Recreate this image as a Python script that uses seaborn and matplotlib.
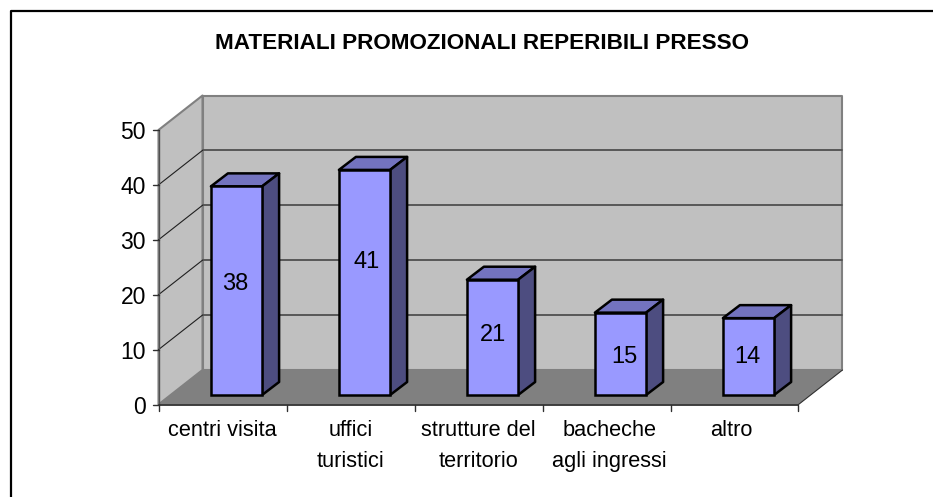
import matplotlib
matplotlib.use("Agg")
import matplotlib.pyplot as plt
from matplotlib.patches import Polygon
from matplotlib.lines import Line2D
from matplotlib.transforms import ScaledTranslation, IdentityTransform
import seaborn as sns
import pandas as pd

categories = ["centri visita", "uffici\nturistici", "strutture del\nterritorio",
              "bacheche\nagli ingressi", "altro"]
values = [38, 41, 21, 15, 14]
y_ticks = [0, 10, 20, 30, 40, 50]
title_text = "MATERIALI PROMOZIONALI REPERIBILI PRESSO"

W, H, DPI = 933, 497, 100
sns.set_theme(style="white")
plt.rcParams['font.family'] = ['Liberation Sans', 'DejaVu Sans']

fig = plt.figure(figsize=(W / DPI, H / DPI), dpi=DPI)
L, R, T, B = 158.5, 798.5, 130.0, 404.5
ax = fig.add_axes([L / W, 1 - B / H, (R - L) / W, (B - T) / H])
ax.patch.set_visible(False)

df = pd.DataFrame({"cat": categories, "val": values})
sns.barplot(data=df, x="cat", y="val", ax=ax, width=0.4, color="#9999FF",
            saturation=1, edgecolor="black", linewidth=1.8, zorder=5)
ax.set_xlim(-0.5, 4.5)
ax.set_ylim(0, 50)
ax.set_xlabel("")
ax.set_ylabel("")
for s in ax.spines.values():
    s.set_visible(False)


def off(dx, dy):
    """Data transform shifted by screen pixels (dy positive = up)."""
    return ax.transData + ScaledTranslation(dx / DPI, dy / DPI, fig.dpi_scale_trans)


WX, WY = 44, 34.5      # depth of the box
BX, BY = 14, 9.5       # shift of bars from front plane
DX, DY = 17, 13        # depth of bars
LABEL_NUDGE = [(0, -7), (3.5, -20), (1.5, -2), (4.5, 3), (-0.5, 0)]  # label placement, px
CAT_NUDGE = [0, 0, 0, 3, -3]                                        # label placement, px

base = off(0, 0)
wall = off(WX, WY)
x0, x1 = -0.5, 4.5
GREY = "#808080"

pts = lambda xy, tr: tr.transform(xy)
px = IdentityTransform()
p00, p10 = pts((x0, 0), base), pts((x1, 0), base)
p01, p11 = pts((x0, 50), base), pts((x1, 50), base)
q00, q10 = pts((x0, 0), wall), pts((x1, 0), wall)
q01, q11 = pts((x0, 50), wall), pts((x1, 50), wall)


def poly(points, fc, ec, lw, z):
    ax.add_patch(Polygon(points, closed=True, transform=px, fc=fc, ec=ec, lw=lw, zorder=z,
                         clip_on=False, joinstyle="round"))


def line(a, b, color, lw, z=1):
    ax.add_line(Line2D([a[0], b[0]], [a[1], b[1]], transform=px, color=color, lw=lw, zorder=z,
                       clip_on=False))


# back wall, side wall, floor
poly([q00, q10, q11, q01], "#C0C0C0", GREY, 1.5, 0.6)
poly([p00, q00, q01, p01], "#C0C0C0", GREY, 1.5, 0.7)
poly([p00, p10, q10, q00], "#808080", "none", 0, 0.8)

# gridlines on back and side wall
for v in y_ticks[1:-1]:
    a, b = pts((x0, v), wall), pts((x1, v), wall)
    line(a, b, "#505050", 1.3, 0.9)
    line(pts((x0, v), base), a, "#202020", 0.8, 0.9)

# front axis lines
line(p00, p01, "#505050", 1.0)
line(p00, p10, "#303030", 1.3)
line(p10, q10, "#303030", 0.8)

# bars with depth
bars_tr = off(BX, BY)
rects = [p for p in ax.patches if isinstance(p, matplotlib.patches.Rectangle)]
for bar, v, (nx, ny) in zip(rects, values, LABEL_NUDGE):
    bar.set_transform(bars_tr)
    xa, xb = bar.get_x(), bar.get_x() + bar.get_width()
    h = bar.get_height()
    tl, tr_, br = pts((xa, h), bars_tr), pts((xb, h), bars_tr), pts((xb, 0), bars_tr)
    d = (DX, DY)
    poly([tl, tr_, tr_ + d, tl + d], "#7373BF", "black", 1.8, 4)
    poly([br, tr_, tr_ + d, br + d], "#4D4D80", "black", 1.8, 4)
    ax.text((xa + xb) / 2, h / 2, str(v), transform=off(BX + nx - 1, BY - ny), ha="center",
            va="center", fontsize=17, color="black", zorder=6)

ax.set_yticks(y_ticks)
ax.tick_params(axis="y", length=0, labelsize=16.5, pad=9, colors="black", left=False)
ax.tick_params(axis="x", length=0, bottom=False, labelbottom=False)

# tick marks (outside the axes) and category labels
for v in y_ticks:
    a = pts((x0, v), base)
    line((a[0] - 6, a[1]), a, "#303030", 1.0)
for i in range(len(categories) + 1):
    a = pts((x0 + i, 0), base)
    line(a, (a[0], a[1] - 6), "#303030", 1.0)
for i, (c, n) in enumerate(zip(categories, CAT_NUDGE)):
    a = pts((i, 0), base)
    fig.text((a[0] + n) / W, (H - 420) / H, c, ha="center", va="top", fontsize=15.7,
             linespacing=1.62, color="black")

fig.text(482 / W, 1 - 43.5 / H, title_text, ha="center", va="center", fontsize=16.2,
         fontweight="bold", color="black")

# chart frame (top and left edges)
fig.add_artist(Line2D([10.5 / W, 10.5 / W, 1], [0, 1 - 11 / H, 1 - 11 / H],
                      transform=fig.transFigure, color="black", lw=1.6))

fig.savefig("out.png", dpi=DPI, facecolor="white")
